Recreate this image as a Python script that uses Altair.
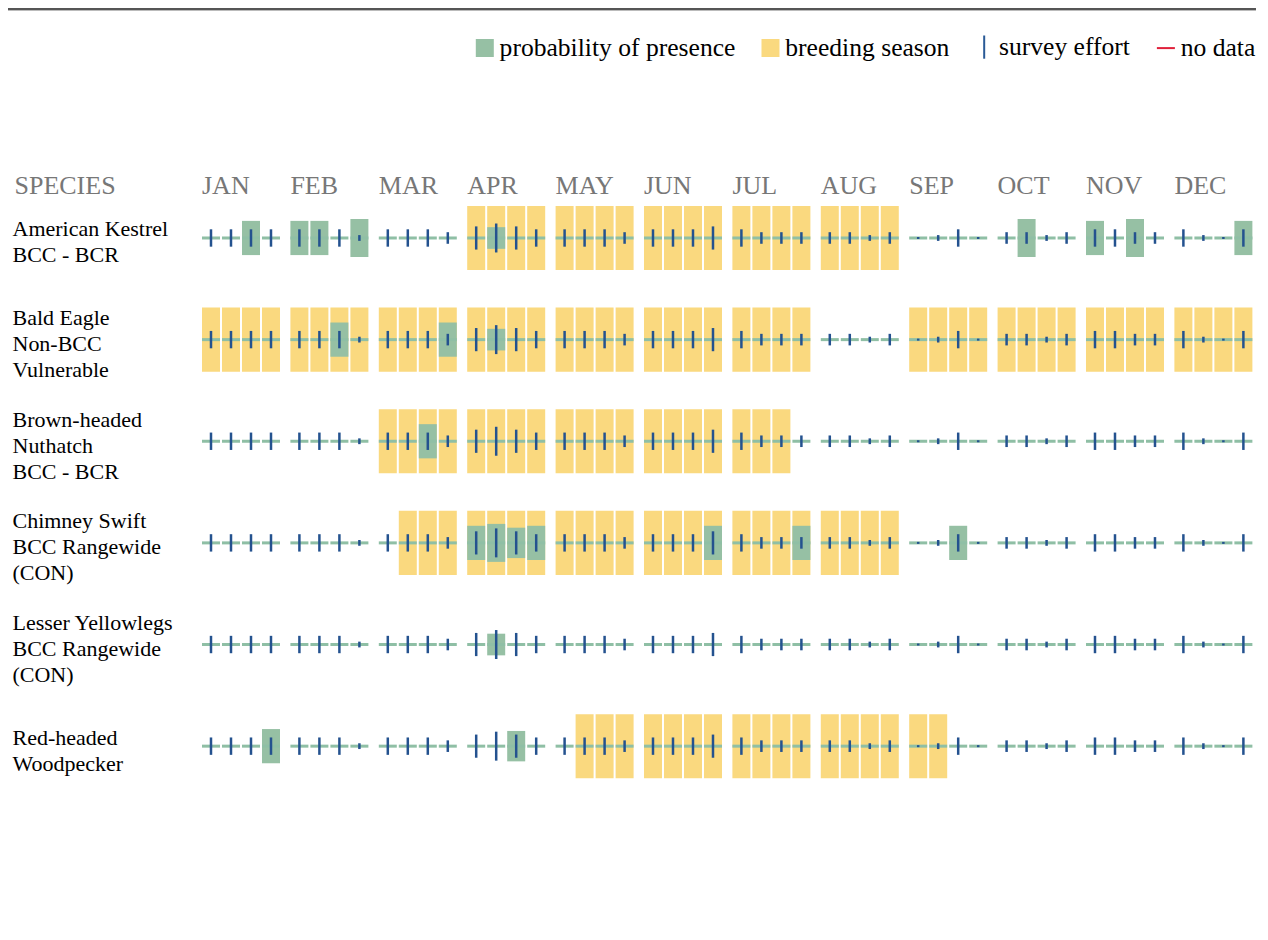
import json
import altair as alt
import pandas as pd

# ---------------- data ----------------
species = ["American Kestrel", "Bald Eagle", "Brown-headed Nuthatch",
           "Chimney Swift", "Lesser Yellowlegs", "Red-headed Woodpecker"]
species_lines = [["American Kestrel", "BCC - BCR"],
                 ["Bald Eagle", "Non-BCC", "Vulnerable"],
                 ["Brown-headed", "Nuthatch", "BCC - BCR"],
                 ["Chimney Swift", "BCC Rangewide", "(CON)"],
                 ["Lesser Yellowlegs", "BCC Rangewide", "(CON)"],
                 ["Red-headed", "Woodpecker"]]
months = ["JAN", "FEB", "MAR", "APR", "MAY", "JUN",
          "JUL", "AUG", "SEP", "OCT", "NOV", "DEC"]
weeks = ["W1", "W2", "W3", "W4"]

# survey effort per week (same for every species)
effort = [3, 3, 3, 3,   3, 3, 3, 1,   3, 3, 3, 2,   4, 5, 4, 3,
          3, 3, 3, 2,   3, 3, 3, 4,   3, 2, 2, 2,   2, 2, 1, 2,
          0.35, 1, 3, 0.35,   2, 2, 1, 2,   3, 3, 2, 2,   3, 1, 0.35, 3]

# breeding season flags, 4 weeks per month
breeding = {
    "American Kestrel":      "0000 0000 0000 1111 1111 1111 1111 1111 0000 0000 0000 0000",
    "Bald Eagle":            "1111 1111 1111 1111 1111 1111 1111 0000 1111 1111 1111 1111",
    "Brown-headed Nuthatch": "0000 0000 1111 1111 1111 1111 1110 0000 0000 0000 0000 0000",
    "Chimney Swift":         "0000 0000 0111 1111 1111 1111 1111 1111 0000 0000 0000 0000",
    "Lesser Yellowlegs":     "0000 0000 0000 0000 0000 0000 0000 0000 0000 0000 0000 0000",
    "Red-headed Woodpecker": "0000 0000 0000 0000 0111 1111 1111 1111 1100 0000 0000 0000",
}

Z = [0, 0, 0, 0]
presence = {
    "American Kestrel":      [0, 0, .9, 0,  .9, .9, 0, 1,  *Z,  0, .57, 0, 0,  *Z, *Z, *Z, *Z, *Z,
                              0, 1, 0, 0,  .9, 0, 1, 0,  0, 0, 0, .9],
    "Bald Eagle":            [*Z,  0, 0, .9, 0,  0, 0, 0, .9,  0, .57, 0, 0,  *Z, *Z, *Z, *Z, *Z, *Z, *Z, *Z],
    "Brown-headed Nuthatch": [*Z, *Z,  0, 0, .9, 0,  *Z, *Z, *Z, *Z, *Z, *Z, *Z, *Z, *Z],
    "Chimney Swift":         [*Z, *Z, *Z,  .9, 1, .8, .9,  *Z,  0, 0, 0, .9,  0, 0, 0, .9,  *Z,
                              0, 0, .9, 0,  *Z, *Z, *Z],
    "Lesser Yellowlegs":     [*Z, *Z, *Z,  0, .57, 0, 0,  *Z, *Z, *Z, *Z, *Z, *Z, *Z, *Z],
    "Red-headed Woodpecker": [0, 0, 0, .9,  *Z, *Z,  0, 0, .8, 0,  *Z, *Z, *Z, *Z, *Z, *Z, *Z, *Z],
}

legend_items = ["probability of presence", "breeding season", "survey effort", "no data"]
legend_colors = ["#96c0a4", "#fad97f", "#2a5a96", "#e0203a"]
legend_shapes = ["square", "square", "M0,-1.45L0,1.45", "M-1.125,0L1.125,0"]

# ---------------- table ----------------
rows = []
for si, sp in enumerate(species):
    flags = breeding[sp].replace(" ", "")
    for mi, m in enumerate(months):
        for wi, w in enumerate(weeks):
            k = mi * 4 + wi
            rows.append(dict(row=si + 1, month=m, week=w,
                             breeding=int(flags[k]), presence=presence[sp][k],
                             effort=effort[k]))
df = pd.DataFrame(rows)

FONT = "Liberation Serif"
YELLOW = "#fad97f"
GREEN = "#96c0a4"
BLUE = "#24528f"

xscale = alt.Scale(domain=months, paddingInner=10.4 / 88.4, paddingOuter=0)
xoff_scale = alt.Scale(domain=weeks, paddingInner=0.1, paddingOuter=0)
yscale = alt.Scale(domain=[0.7, 6.45], reverse=True, nice=False, zero=False)

xaxis = alt.Axis(orient="top", title=None, labelAlign="left", labelOffset=-39,
                 labelBaseline="alphabetic", labelPadding=14, labelFontSize=26,
                 labelColor="#777777", labelFont=FONT, tickSize=0, labelAngle=0,
                 ticks=False, domain=False, grid=False)

label_expr = json.dumps(species_lines) + "[datum.value - 1]"
two_line = [i + 1 for i, l in enumerate(species_lines) if len(l) == 2]
two_test = " || ".join(f"datum.value == {v}" for v in two_line)
yaxis = alt.Axis(orient="left", values=[1, 2, 3, 4, 5, 6], labelExpr=label_expr,
                 title="SPECIES", titleAngle=0, titleAlign="left",
                 titleBaseline="alphabetic", titleX=-188, titleY=-14,
                 titleFontSize=26, titleColor="#777777", titleFontWeight="normal",
                 titleFont=FONT, labelAlign="left", labelBaseline="middle",
                 labelPadding=190,
                 labelOffset={"condition": {"test": two_test, "value": -9}, "value": -22},
                 labelFontSize=22, labelFont=FONT,
                 labelColor="black", labelLineHeight=26, labelLimit=400,
                 labelOverlap=False, tickSize=0, ticks=False, domain=False, grid=False)

X = alt.X("month:N", scale=xscale, sort=months, axis=xaxis)
XO = alt.XOffset("week:N", scale=xoff_scale, sort=weeks)
Y = alt.Y("lo:Q", scale=yscale, axis=yaxis)
Y2 = alt.Y2("hi:Q")

base = alt.Chart(df)

yellow = base.transform_filter("datum.breeding == 1").transform_calculate(
    lo="datum.row - 0.315", hi="datum.row + 0.315"
).mark_bar(color=YELLOW).encode(x=X, xOffset=XO, y=Y, y2=Y2)

pres = base.transform_filter("datum.presence > 0").transform_calculate(
    lo="datum.row - datum.presence * 0.187", hi="datum.row + datum.presence * 0.187"
).mark_bar(color=GREEN).encode(x=X, xOffset=XO, y=Y, y2=Y2)

gline = base.transform_calculate(
    lo="datum.row - 0.0148", hi="datum.row + 0.0148"
).mark_bar(color="#8fbfa5").encode(x=X, xOffset=XO, y=Y, y2=Y2)

eff = base.transform_calculate(
    lo="datum.row - datum.effort * 0.0285", hi="datum.row + datum.effort * 0.0285"
).mark_bar(color=BLUE, size=2.5).encode(x=X, xOffset=XO, y=Y, y2=Y2)

leg = alt.Legend(title=None, orient="none", legendX=270, legendY=-173.5,
                 direction="horizontal", labelFont=FONT, labelFontSize=25.6,
                 labelColor="black", labelOffset=2, columnPadding=21.7,
                 symbolSize=256, symbolStrokeWidth=2, padding=0, labelLimit=0,
                 symbolOpacity=1)
legend_layer = base.transform_filter("false").transform_calculate(
    lo="datum.row", item="'no data'"
).mark_point(filled=True, opacity=1).encode(
    x=X, y=Y,
    fill=alt.Fill("item:N", scale=alt.Scale(domain=legend_items, range=legend_colors), legend=leg),
    stroke=alt.Stroke("item:N", scale=alt.Scale(domain=legend_items, range=legend_colors), legend=leg),
    shape=alt.Shape("item:N", scale=alt.Scale(domain=legend_items, range=legend_shapes), legend=leg),
)

deco = alt.Chart(pd.DataFrame({"k": [0]}))
rule_dark = deco.mark_rule(color="#555555", strokeWidth=2).encode(
    x=alt.value(-194), x2=alt.value(1054), y=alt.value(-198.5))
rule_light = deco.mark_rule(color="#bbbbbb", strokeWidth=1).encode(
    x=alt.value(-194), x2=alt.value(1054), y=alt.value(-197))

chart = alt.layer(yellow, pres, gline, eff, legend_layer, rule_dark, rule_light).properties(
    width=1050.4, height=584.4,
    autosize=alt.AutoSizeParams(type="none"),
    padding={"left": 194, "top": 199.5, "right": 7, "bottom": 20},
).configure(font=FONT).configure_view(strokeWidth=0, stroke="transparent")

chart.save("out.html", embed_options={"renderer": "svg", "actions": False})
